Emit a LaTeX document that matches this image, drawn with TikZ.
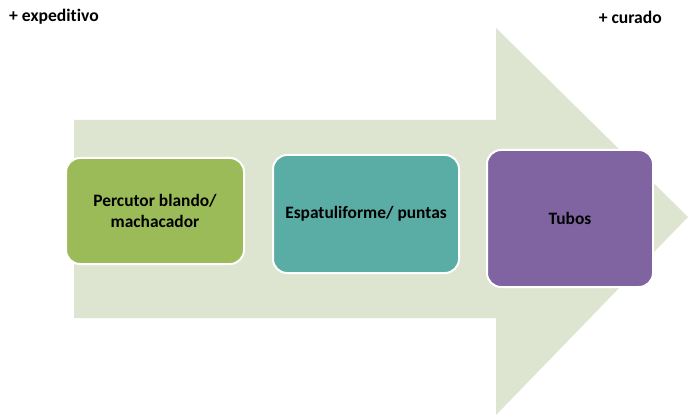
\documentclass[tikz,border=0pt]{standalone}
\usepackage{fontspec}
\setmainfont[Ligatures=NoCommon]{Carlito}
\definecolor{arrowfill}{RGB}{221,229,208}
\definecolor{boxgreen}{RGB}{155,187,89}
\definecolor{boxteal}{RGB}{90,173,164}
\definecolor{boxpurple}{RGB}{128,100,162}
\tikzset{
  stagebox/.style={draw=white, line width=2pt, rounded corners=14pt, align=center,
    font=\bfseries\fontsize{17.4}{20.5}\selectfont, inner sep=0pt},
  endlabel/.style={font=\bfseries\fontsize{17.6}{20}\selectfont, inner sep=0pt}
}
\begin{document}
\begin{tikzpicture}[x=1pt,y=-1pt]
\useasboundingbox (0,0) rectangle (688,417);
\fill[arrowfill] (74,120) -- (496,120) -- (496,28) -- (688,217) -- (496,415) -- (496,318) -- (74,318) -- cycle;
\node[endlabel, anchor=west] (exp) at (9,17) {+ expeditivo};
\node[endlabel, anchor=east] (cur) at (662,17) {+ curado};
\node[stagebox, fill=boxgreen, minimum width=178pt, minimum height=106pt] (b1) at (155,211) {Percutor blando/\\machacador};
\node[stagebox, fill=boxteal, minimum width=186pt, minimum height=118pt] (b2) at (366,214) {Espatuliforme/ puntas};
\node[stagebox, fill=boxpurple, minimum width=166pt, minimum height=137pt] (b3) at (570,218.5) {Tubos};
\end{tikzpicture}
\end{document}
